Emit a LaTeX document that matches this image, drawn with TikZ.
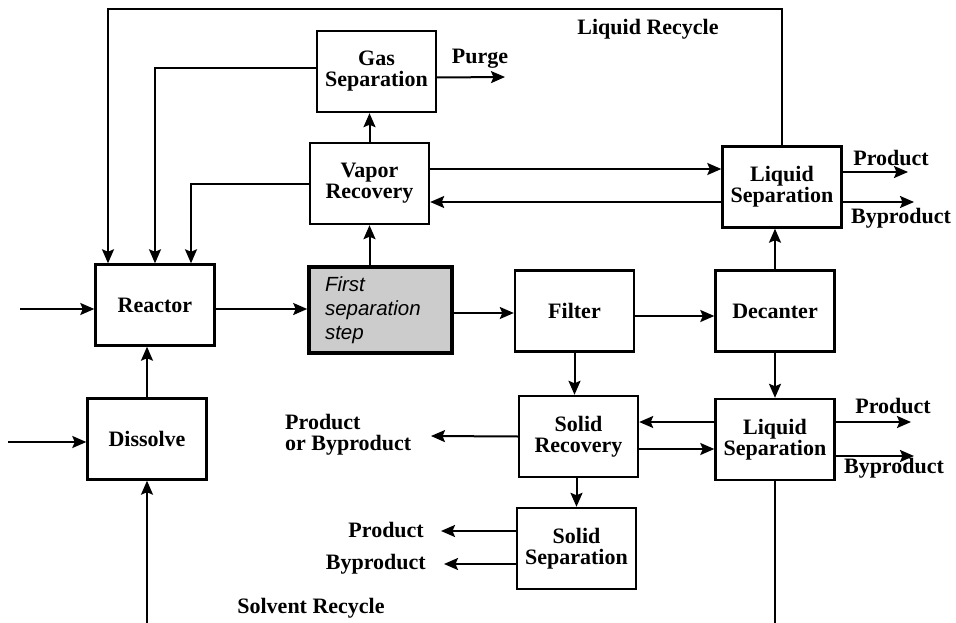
\documentclass[tikz,border=0pt]{standalone}
\usepackage{fontspec}
\setmainfont{Liberation Serif}
\newfontfamily\stepfont{Liberation Sans}
\usetikzlibrary{arrows.meta}
\begin{document}
\begin{tikzpicture}[x=1pt,y=-1pt,
  unit/.style={draw, line width=2.4pt, minimum width=119pt, minimum height=81pt,
    inner sep=0pt, align=center, font=\fontsize{22}{21}\selectfont\bfseries},
  firststep/.style={draw, line width=3.6pt, fill=gray!40, minimum height=86pt,
    text width=111pt, inner xsep=16pt, inner ysep=0pt, align=left,
    font=\fontsize{20.5}{24}\selectfont\stepfont\itshape},
  flow/.style={line width=2pt, -{Stealth[length=14pt,width=12pt,inset=2.5pt]}},
  plain/.style={line width=2pt},
  tag/.style={inner sep=0pt, align=left, font=\fontsize{22}{21}\selectfont\bfseries}]
\useasboundingbox (0,0) rectangle (956,623);

% process units
\node[unit] (gas)      at (376.5,71.5) {Gas\\Separation};
\node[unit] (vapor)    at (369.5,183.5) {Vapor\\Recovery};
\node[unit] (reactor)  at (155,305) {Reactor};
\node[firststep] (first) at (380.5,310) {First\\separation\\step};
\node[unit] (filter)   at (574.5,311) {Filter};
\node[unit] (decanter) at (775,311) {Decanter};
\node[unit] (liqA)     at (782,187) {Liquid\\Separation};
\node[unit] (dissolve) at (147,439) {Dissolve};
\node[unit] (solrec)   at (578.5,436.5) {Solid\\Recovery};
\node[unit] (liqB)     at (775,439.5) {Liquid\\Separation};
\node[unit] (solsep)   at (576.5,548.5) {Solid\\Separation};

% stream labels
\node[tag] (purge)   at (480,59) {Purge};
\node[tag] (lrec)    at (648,29) {Liquid Recycle};
\node[tag] (prodA)   at (891,158) {Product};
\node[tag] (byA)     at (901,218) {Byproduct};
\node[tag] (prodB)   at (893,406) {Product};
\node[tag] (byB)     at (894,468) {Byproduct};
\node[tag, anchor=west] (prodor) at (285,435) {Product\\or Byproduct};
\node[tag, anchor=east] (prodC)  at (424,530) {Product};
\node[tag, anchor=east] (byC)    at (426,564) {Byproduct};
\node[tag] (srec)    at (311,608) {Solvent Recycle};

% free ends of streams
\coordinate (toprow)  at (0,9);
\coordinate (bottom)  at (0,623);
\coordinate (feedR)   at (20,309);
\coordinate (feedD)   at (8,442);
\coordinate (purgeE)  at (505,77);
\coordinate (prodAE)  at (908,172);
\coordinate (byAE)    at (914,202);
\coordinate (prodBE)  at (911,422);
\coordinate (byBE)    at (914,456);
\coordinate (prodorE) at (431,436);
\coordinate (prodCE)  at (441,531);
\coordinate (byCE)    at (444,564);

% recycle loops back to the reactor
\draw[flow] (liqA.north) -- (liqA.north |- toprow) -| ([xshift=-47pt]reactor.north);
\draw[flow] ([yshift=3.5pt]gas.west) -| (reactor.north);
\draw[flow] (vapor.west) -| ([xshift=36pt]reactor.north);

% main train
\draw[flow] (feedR) -- (feedR -| reactor.west);
\draw[flow] ([yshift=-4pt]reactor.east) -- ([yshift=-4pt]reactor.east -| first.west);
\draw[flow] ([yshift=-3pt]first.east) -- ([yshift=-3pt]first.east -| filter.west);
\draw[flow] ([yshift=-5pt]filter.east) -- ([yshift=-5pt]filter.east -| decanter.west);
\draw[flow] (vapor.south |- first.north) -- (vapor.south);
\draw[flow] (vapor.north) -- (vapor.north |- gas.south);
\draw[flow] ([yshift=-6pt]gas.east) -- (purgeE);

% vapour / liquid exchange
\draw[flow] ([yshift=14.5pt]vapor.east) -- ([yshift=14.5pt]vapor.east -| liqA.west);
\draw[flow] ([yshift=-15pt]liqA.west) -- ([yshift=-15pt]liqA.west -| vapor.east);
\draw[flow] ([yshift=15pt]liqA.east) -- (prodAE);
\draw[flow] ([yshift=-15pt]liqA.east) -- (byAE);
\draw[flow] (decanter.north) -- (decanter.north |- liqA.south);
\draw[flow] (decanter.south) -- (liqB.north);

% solids branch
\draw[flow] (filter.south) -- (filter.south |- solrec.north);
\draw[flow] ([yshift=17.5pt]liqB.west) -- ([yshift=17.5pt]liqB.west -| solrec.east);
\draw[flow] ([yshift=-12.5pt]solrec.east) -- ([yshift=-12.5pt]solrec.east -| liqB.west);
\draw[flow] ([yshift=17.5pt]liqB.east) -- (prodBE);
\draw[flow] ([yshift=-16.5pt]liqB.east) -- (byBE);
\draw[flow] (solrec.west) -- (prodorE);
\draw[flow] (solsep.north |- solrec.south) -- (solsep.north);
\draw[flow] ([yshift=17.5pt]solsep.west) -- (prodCE);
\draw[flow] ([yshift=-15.5pt]solsep.west) -- (byCE);
\draw[plain] (liqB.south) -- (liqB.south |- bottom);

% dissolver and solvent recycle
\draw[flow] (feedD) -- (feedD -| dissolve.west);
\draw[flow] (dissolve.south |- bottom) -- (dissolve.south);
\draw[flow] (dissolve.north) -- (dissolve.north |- reactor.south);
\end{tikzpicture}
\end{document}
